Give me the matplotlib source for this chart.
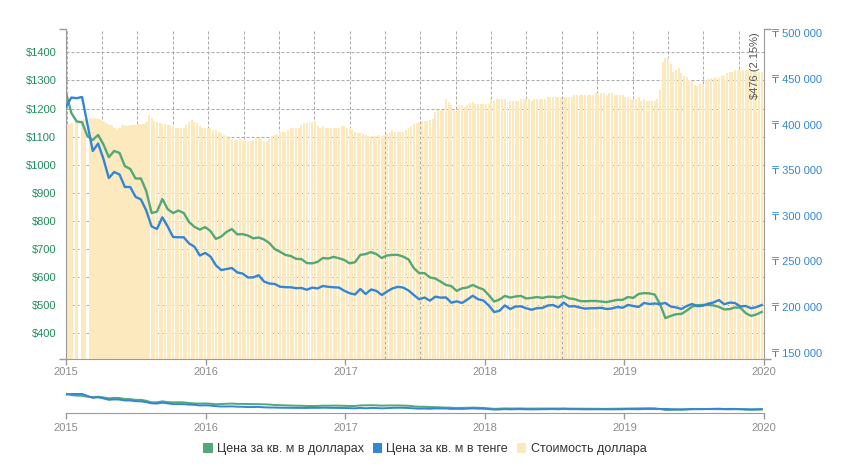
import numpy as np
import pandas as pd
import matplotlib
matplotlib.use('Agg')
import matplotlib.pyplot as plt
import matplotlib.dates as mdates
from matplotlib.patches import Patch
from matplotlib.ticker import FixedLocator, FuncFormatter
from matplotlib.transforms import blended_transform_factory

plt.rcParams['font.family'] = ['Liberation Sans', 'DejaVu Sans']

# price per sq. m in dollars, every 2 weeks from 2015-01-01
usd_per_sqm = [
    1256, 1184, 1154, 1151, 1102, 1088, 1106, 1072, 1027, 1049,
    1042, 995, 985, 951, 951, 906, 828, 833, 878, 842,
    828, 837, 828, 796, 779, 769, 778, 764, 736, 744,
    761, 771, 752, 753, 748, 738, 741, 734, 721, 700,
    690, 679, 675, 665, 664, 650, 649, 654, 668, 666,
    672, 667, 661, 649, 653, 679, 682, 689, 682, 668,
    677, 679, 679, 673, 663, 632, 614, 614, 599, 595,
    584, 572, 568, 551, 560, 563, 572, 563, 556, 536,
    513, 520, 533, 527, 531, 533, 524, 526, 529, 526,
    530, 530, 527, 533, 524, 522, 515, 514, 515, 515,
    513, 511, 515, 519, 519, 529, 526, 540, 543, 542,
    538, 504, 454, 462, 468, 469, 481, 495, 500, 501,
    501, 499, 494, 485, 486, 492, 491, 472, 462, 467,
    476,
]
last_change_pct = 2.15

# price per sq. m in tenge, same dates
kzt_per_sqm = [
    419600, 429600, 428900, 430200, 400600, 371000, 379200, 362300, 341400, 348000,
    345300, 331600, 331600, 320800, 317900, 305800, 288300, 285600, 298400, 288300,
    276800, 276500, 276500, 269700, 266200, 256500, 259300, 255400, 245800, 240600,
    241700, 242800, 238000, 236700, 232400, 232600, 234900, 228000, 225800, 225300,
    222300, 221800, 221700, 220700, 220900, 219000, 221300, 220400, 223100, 222200,
    221700, 221400, 217900, 215200, 213800, 219800, 214300, 219300, 217800, 213200,
    217100, 220400, 222200, 221400, 218200, 213200, 208500, 210500, 207000, 211400,
    210300, 210600, 204800, 206300, 204500, 208200, 212400, 208600, 207200, 201800,
    194600, 195900, 201800, 197900, 200600, 200800, 198700, 197100, 198800, 199000,
    201700, 202300, 199700, 204900, 200700, 201000, 199500, 198300, 198700, 198800,
    199200, 197900, 198400, 200100, 199300, 202300, 201200, 200100, 204500, 203400,
    203900, 203400, 204500, 200600, 199600, 197900, 201200, 203400, 201000, 201500,
    203700, 205100, 207700, 203100, 204900, 204500, 200700, 201200, 198700, 199900,
    202300,
]

# dollar cost (bars), weekly from 2015-01-01, None = no data that week
dollar_cost = [
    355, 356, 358, None, 359, None, 362, 364, None, 365,
    364, 365, 364, 362, 361, 358, 355, 355, 350, 347,
    350, 355, 355, 353, 355, 355, 355, 356, 356, 356,
    359, 370, 365, 361, 359, 358, 356, 356, 355, 355,
    353, 351, 350, 350, 351, 355, 359, 362, 359, 358,
    353, 351, 351, 351, 350, 347, 348, 344, 342, 339,
    338, 335, 333, 332, 332, 333, 332, 330, 330, 330,
    332, 335, 335, 333, 330, 330, 333, 338, 339, 341,
    344, 344, 345, 347, 350, 350, 351, 351, 355, 358,
    358, 358, 359, 359, 353, 351, 353, 351, 351, 350,
    350, 350, 350, 353, 353, 351, 350, 348, 345, 342,
    342, 341, 339, 338, 338, 338, 338, 339, 338, 339,
    342, 345, 347, 345, 345, 345, 345, 347, 350, 353,
    356, 358, 359, 361, 361, 361, 362, 364, 374, 377,
    377, 377, 395, 389, 385, 377, 374, 385, 385, 382,
    385, 388, 389, 386, 386, 386, 386, 386, 386, 395,
    391, 394, 394, 395, 394, 389, 391, 392, 392, 392,
    394, 394, 394, 394, 392, 394, 395, 394, 394, 395,
    397, 398, 398, 398, 397, 397, 398, 398, 397, 398,
    400, 401, 401, 401, 400, 401, 400, 401, 403, 403,
    403, 403, 401, 403, 403, 401, 400, 401, 400, 398,
    397, 395, 395, 394, 397, 392, 394, 392, 392, 391,
    392, 395, 408, 450, 456, 456, 448, 436, 438, 441,
    433, 429, 427, 423, 421, 415, 414, 417, 417, 421,
    424, 426, 426, 426, 426, 429, 430, 433, 436, 436,
    438, 439, 439, 439, 439, 439, 439, 438, 436, 436,
    436,
]

usd_ticks = [400, 500, 600, 700, 800, 900, 1000, 1100, 1200, 1300, 1400]
kzt_ticks = [150000, 200000, 250000, 300000, 350000, 400000, 450000, 500000]
legend_labels = ['Цена за кв. м в долларах', 'Цена за кв. м в тенге', 'Стоимость доллара']

GREEN = '#52a877'
GREEN_TXT = '#1f8c5c'
BLUE = '#3386d6'
BAR = '#fce9bd'
GRID = '#ababab'
AXIS = '#9a9a9a'
XTXT = '#8c8c8c'

line_dates = pd.date_range('2015-01-01', periods=len(usd_per_sqm), freq='14D')
bar_dates = pd.date_range('2015-01-01', periods=len(dollar_cost), freq='7D')
bar_vals = np.array([np.nan if v is None else v for v in dollar_cost], dtype=float)
bar_width = np.where(bar_dates < pd.Timestamp('2015-08-10'), 7.3, 5.2)
vgrid_dates = pd.Timestamp('2015-01-03') + pd.to_timedelta(np.arange(20) * 92.5, unit='D')

usd_lim = (308.5, 1482)
kzt_lim = (143100, 504400)
xlim = (pd.Timestamp('2015-01-01'), pd.Timestamp('2020-01-01'))

fig = plt.figure(figsize=(8.58, 4.70), dpi=100)
rect = [66 / 858, 1 - 359 / 470, 698 / 858, 329.7 / 470]

ax_bar = fig.add_axes(rect)
ax_usd = fig.add_axes(rect, sharex=ax_bar)
ax_usd.patch.set_visible(False)
ax_kzt = ax_usd.twinx()

# bars + grid in the back
ax_bar.bar(bar_dates, bar_vals, width=bar_width, color=BAR, linewidth=0, zorder=2)
ax_bar.set_ylim(0, 500)
ax_bar.set_xlim(*xlim)
for s in ax_bar.spines.values():
    s.set_visible(False)
ax_bar.tick_params(left=False, labelleft=False, bottom=False, labelbottom=False)
dash = (0, (2.9, 1.9))
tr = blended_transform_factory(ax_bar.transAxes, ax_usd.transData)
for v in usd_ticks:
    ax_bar.plot([0, 1], [v, v], transform=tr, color=GRID, lw=0.75, ls=dash, zorder=1)
for d in vgrid_dates:
    ax_bar.axvline(d, color=GRID, lw=0.75, ls=dash, zorder=1)

# dollar line
ax_usd.plot(line_dates, usd_per_sqm, color=GREEN, lw=1.7, solid_joinstyle='round')
ax_usd.set_ylim(*usd_lim)
ax_usd.yaxis.set_major_locator(FixedLocator(usd_ticks))
ax_usd.yaxis.set_major_formatter(FuncFormatter(lambda v, p: f'${int(v)}'))
ax_usd.yaxis.set_minor_locator(FixedLocator(list(usd_lim)))
ax_usd.tick_params(axis='y', which='major', length=0, pad=7, labelsize=8, labelcolor=GREEN_TXT)
ax_usd.tick_params(axis='y', which='minor', length=5, width=1, color=AXIS)
ax_usd.xaxis.set_major_locator(mdates.YearLocator())
ax_usd.xaxis.set_major_formatter(mdates.DateFormatter('%Y'))
ax_usd.tick_params(axis='x', length=4, width=1, color=AXIS, pad=2, labelsize=8, labelcolor=XTXT)
ax_usd.spines['top'].set_visible(False)
ax_usd.spines['right'].set_visible(False)
ax_usd.spines['left'].set_color(AXIS)
ax_usd.spines['bottom'].set_color(AXIS)

# tenge line
ax_kzt.plot(line_dates, kzt_per_sqm, color=BLUE, lw=1.7, solid_joinstyle='round')
ax_kzt.set_ylim(*kzt_lim)
ax_kzt.yaxis.set_major_locator(FixedLocator(kzt_ticks))
ax_kzt.yaxis.set_major_formatter(FuncFormatter(lambda v, p: '₸ ' + f'{int(v):,}'.replace(',', ' ')))
ax_kzt.yaxis.set_minor_locator(FixedLocator(list(kzt_lim)))
ax_kzt.tick_params(axis='y', which='major', length=0, pad=6, labelsize=8, labelcolor=BLUE)
ax_kzt.tick_params(axis='y', which='minor', length=5, width=1, color=AXIS)
for side in ['top', 'left', 'bottom']:
    ax_kzt.spines[side].set_visible(False)
ax_kzt.spines['right'].set_color(AXIS)
ax_kzt.set_xlim(*xlim)

ax_kzt.text(0.987, 0.99, f'${usd_per_sqm[-1]} ({last_change_pct}%)', transform=ax_kzt.transAxes,
            rotation=90, ha='center', va='top', fontsize=8, color='#555555')

# navigator
nav_rect = [66 / 858, 1 - 413 / 470, 698 / 858, 24 / 470]
ax_nav = fig.add_axes(nav_rect)
ax_nav.plot(line_dates, usd_per_sqm, color=GREEN, lw=1.4)
ax_nav.set_ylim(*usd_lim)
ax_nav2 = ax_nav.twinx()
ax_nav2.plot(line_dates, kzt_per_sqm, color=BLUE, lw=1.4)
ax_nav2.set_ylim(*kzt_lim)
for a in (ax_nav, ax_nav2):
    a.set_xlim(*xlim)
    for s in a.spines.values():
        s.set_visible(False)
    a.tick_params(left=False, right=False, labelleft=False, labelright=False)
ax_nav.spines['bottom'].set_visible(True)
ax_nav.spines['bottom'].set_color(AXIS)
ax_nav.xaxis.set_major_locator(mdates.YearLocator())
ax_nav.xaxis.set_major_formatter(mdates.DateFormatter('%Y'))
ax_nav.tick_params(axis='x', length=4, width=1, color=AXIS, pad=3, labelsize=8, labelcolor=XTXT)
ax_nav2.tick_params(bottom=False, labelbottom=False)

handles = [Patch(facecolor=GREEN), Patch(facecolor=BLUE), Patch(facecolor=BAR)]
fig.legend(handles, legend_labels, loc='center', bbox_to_anchor=(0.495, 1 - 449 / 470), ncol=3,
           frameon=False, fontsize=9, handlelength=0.75, handleheight=0.8, handletextpad=0.35,
           columnspacing=0.7, labelcolor='#333333')

fig.savefig('out.png', dpi=100)
